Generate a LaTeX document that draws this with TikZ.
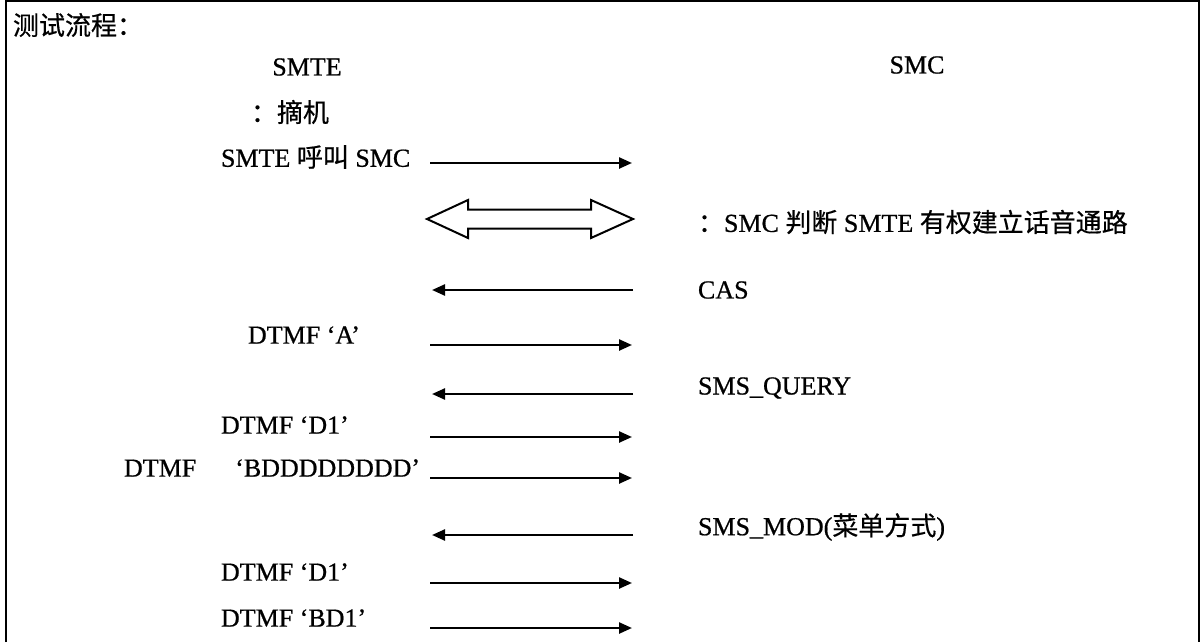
\documentclass[tikz,border=0pt]{standalone}
\usepackage{fontspec}
\setmainfont{Liberation Serif}[FakeBold=0.7]
\newfontfamily\cjk{Noto Sans CJK SC}[FakeBold=0.5]
\usetikzlibrary{arrows.meta}
\tikzset{
  every picture/.style={line width=1pt},
  lbl/.style={anchor=west, inner sep=0pt, font=\fontsize{13}{15}\selectfont},
  head/.style={lbl, anchor=center},
  msg/.style={-{Triangle[length=6.5pt, width=5.5pt]}, line width=1.2pt},
  frame/.style={line width=1.2pt},
  fatarrow/.style={line width=1pt, line join=miter},
}

\begin{document}
\begin{tikzpicture}[x=0.5pt, y=-0.5pt]
  \useasboundingbox (0,0) rectangle (1203,642);
  \draw[frame] (6,642) -- (6,1) -- (1199,1) -- (1199,642);

  \node[lbl] (title) at (12,25) {\cjk 测试流程：};
  \node[head] (smte) at (307,67) {SMTE};
  \node[head] (smc) at (917,65) {SMC};
  \node[lbl] (hook) at (250,112) {{\cjk ：摘机}};

  % left column
  \node[lbl] (call) at (220,157) {SMTE {\cjk 呼叫} SMC};
  \node[lbl] (dA) at (247,335) {DTMF ‘A’};
  \node[lbl] (dD1) at (220,425) {DTMF ‘D1’};
  \node[lbl] (dB) at (123,468) {DTMF\hspace{1.5em}‘BDDDDDDDD’};
  \node[lbl] (dD2) at (220,572) {DTMF ‘D1’};
  \node[lbl] (dBD) at (220,618) {DTMF ‘BD1’};

  % right column
  \node[lbl] (judge) at (697,222) {{\cjk ：}SMC {\cjk 判断} SMTE {\cjk 有权建立话音通路}};
  \node[lbl] (cas) at (697,290) {CAS};
  \node[lbl] (qry) at (697,388) {SMS\_QUERY};
  \node[lbl] (mod) at (697,527) {SMS\_MOD({\cjk 菜单方式})};

  % SMTE -> SMC
  \foreach \n/\y in {call/163, dA/345, dD1/437, dB/478, dD2/583, dBD/628} {
    \coordinate (\n-l) at (430,\y);
    \coordinate (\n-r) at (632,\y);
    \draw[msg] (\n-l) -- (\n-r);
  }
  % SMC -> SMTE
  \foreach \n/\y in {cas/290, qry/394, mod/535} {
    \coordinate (\n-r) at (633,\y);
    \coordinate (\n-l) at (432,\y);
    \draw[msg] (\n-r) -- (\n-l);
  }

  % both ways
  \draw[fatarrow] (427,219) -- (468,200) -- (468,209.5) -- (591,209.5) -- (591,200)
    -- (633,219) -- (591,238) -- (591,228.5) -- (468,228.5) -- (468,238) -- cycle;
\end{tikzpicture}
\end{document}
